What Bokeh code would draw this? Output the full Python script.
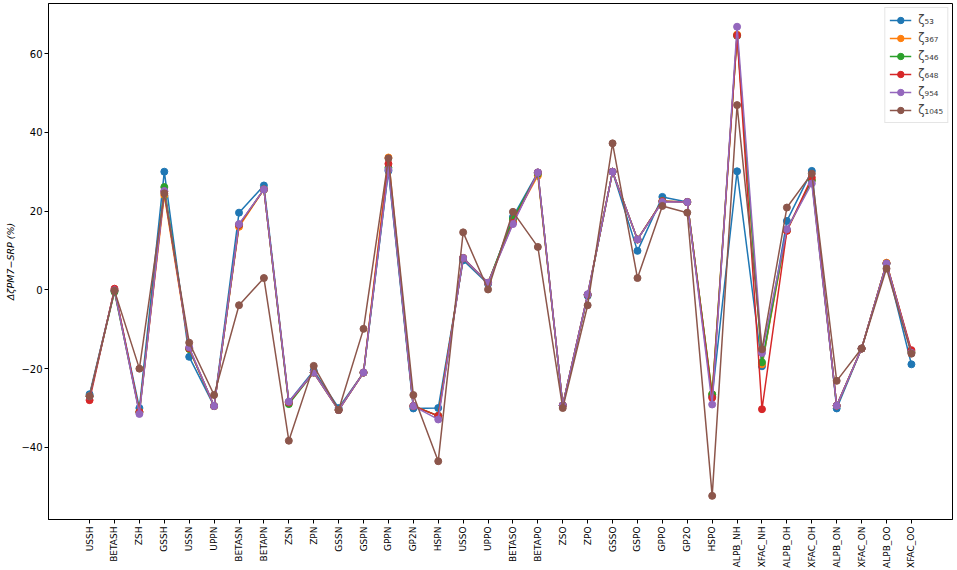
import math
from bokeh.plotting import figure
from bokeh.models import Range1d, FixedTicker, Legend
from bokeh.embed import file_html
from bokeh.resources import INLINE

categories = ["USSH", "BETASH", "ZSH", "GSSH", "USSN", "UPPN", "BETASN", "BETAPN",
              "ZSN", "ZPN", "GSSN", "GSPN", "GPPN", "GP2N", "HSPN", "USSO", "UPPO",
              "BETASO", "BETAPO", "ZSO", "ZPO", "GSSO", "GSPO", "GPPO", "GP2O", "HSPO",
              "ALPB_NH", "XFAC_NH", "ALPB_OH", "XFAC_OH", "ALPB_ON", "XFAC_ON",
              "ALPB_OO", "XFAC_OO"]

z53 = [-26.5, -0.2, -30.0, 30.0, -17.0, -29.5, 19.6, 26.5, -28.4, -20.5, -30.0, -21.0,
       30.2, -30.1, -30.0, 7.5, 1.5, 18.5, 29.8, -29.3, -1.5, 30.0, 9.9, 23.6, 22.3,
       -27.0, 30.1, -19.4, 17.5, 30.2, -30.1, -14.9, 6.7, -18.9]
z367 = [-27.0, -0.1, -31.0, 24.0, -15.0, -29.5, 16.0, 25.5, -28.6, -21.0, -30.5, -21.0,
        33.6, -29.5, -32.0, 8.1, 1.8, 17.5, 29.0, -29.3, -1.2, 30.0, 12.8, 22.5, 22.3,
        -26.5, 64.8, -18.9, 15.0, 27.8, -29.4, -14.9, 6.9, -15.8]
z546 = [-27.0, -0.5, -31.0, 26.1, -15.0, -29.5, 16.5, 25.5, -29.0, -21.0, -30.5, -21.0,
        31.0, -29.5, -32.0, 8.1, 1.8, 18.0, 29.5, -29.3, -1.2, 30.0, 12.8, 22.5, 22.3,
        -26.5, 64.5, -18.4, 15.2, 27.8, -29.4, -14.9, 6.7, -15.8]
z648 = [-28.0, 0.3, -31.0, 25.0, -14.8, -29.5, 16.5, 25.5, -28.6, -21.0, -30.5, -21.0,
        32.0, -29.5, -32.0, 8.1, 1.8, 17.0, 29.8, -29.3, -1.2, 30.0, 12.8, 22.5, 22.3,
        -27.4, 64.6, -30.3, 15.0, 28.5, -29.4, -14.9, 6.7, -15.3]
z954 = [-27.0, -0.1, -31.5, 25.1, -14.6, -29.5, 16.7, 25.5, -28.4, -21.0, -30.5, -21.0,
        30.5, -29.5, -32.9, 8.1, 1.8, 16.7, 29.8, -29.3, -1.1, 30.0, 12.8, 22.3, 22.3,
        -29.1, 66.8, -16.0, 15.4, 27.0, -29.4, -14.9, 6.7, -16.0]
z1045 = [-27.0, -0.2, -20.0, 24.5, -13.4, -26.7, -3.9, 3.0, -38.3, -19.3, -30.5, -9.9,
         33.4, -26.7, -43.5, 14.6, 0.1, 19.8, 10.9, -30.0, -3.9, 37.2, 3.0, 21.3, 19.6,
         -52.3, 46.9, -15.1, 20.9, 29.5, -23.1, -14.9, 5.4, -16.2]

series_labels = ["ζ₅₃", "ζ₃₆₇", "ζ₅₄₆", "ζ₆₄₈", "ζ₉₅₄", "ζ₁₀₄₅"]
series_values = [z53, z367, z546, z648, z954, z1045]
colors = ["#1f77b4", "#ff7f0e", "#2ca02c", "#d62728", "#9467bd", "#8c564b"]
y_ticks = [-40, -20, 0, 20, 40, 60]
y_title = "ΔζPM7−SRP (%)"

xs = list(range(len(categories)))
n = len(categories)
pad = (n - 1) * 0.05
FW = 904

p = figure(frame_width=FW, frame_height=516, output_backend="svg", toolbar_location=None,
           x_range=Range1d(-pad, n - 1 + pad), y_range=Range1d(-58.3, 72.7),
           min_border_left=48, min_border_right=5, min_border_top=3, min_border_bottom=0)
p.background_fill_color = "white"
p.border_fill_color = "white"
p.outline_line_color = "black"
p.outline_line_width = 1
p.grid.visible = False

FONT = "DejaVu Sans"
p.xaxis.ticker = FixedTicker(ticks=xs)
p.xaxis.major_label_overrides = {i: c for i, c in enumerate(categories)}
p.xaxis.major_label_orientation = math.pi / 2
p.yaxis.ticker = FixedTicker(ticks=y_ticks)
p.yaxis.major_label_overrides = {t: (str(t).replace("-", "\u2212")) for t in y_ticks}
for ax in (p.xaxis, p.yaxis):
    ax.minor_tick_line_color = None
    ax.major_tick_in = 0
    ax.major_tick_out = 4
    ax.major_tick_line_color = "black"
    ax.axis_line_color = "black"
    ax.major_label_text_font = FONT
    ax.major_label_text_color = "black"
    ax.major_label_standoff = 3
p.xaxis.major_label_text_font_size = "9px"
p.yaxis.major_label_text_font_size = "10px"
p.yaxis.major_label_standoff = 2

p.yaxis.axis_label = y_title
p.yaxis.axis_label_text_font = FONT
p.yaxis.axis_label_text_font_size = "9.5px"
p.yaxis.axis_label_text_font_style = "italic"
p.yaxis.axis_label_text_color = "black"
p.yaxis.axis_label_standoff = 2

items = []
for lab, vals, col in zip(series_labels, series_values, colors):
    r1 = p.line(xs, vals, line_color=col, line_width=1.5)
    r2 = p.scatter(xs, vals, size=7, fill_color=col, line_color=col, marker="circle")
    items.append((lab, [r1, r2]))

legend = Legend(items=items, location="top_right")
legend.label_text_font = FONT
legend.label_text_font_size = "11.5px"
legend.glyph_width = 22
legend.glyph_height = 16
legend.label_height = 16
legend.spacing = 2
legend.padding = 4
legend.margin = 4
legend.border_line_color = "#cccccc"
legend.background_fill_alpha = 0.8
legend.label_standoff = 7
p.add_layout(legend)

open("out.html", "w").write(file_html(p, INLINE))
